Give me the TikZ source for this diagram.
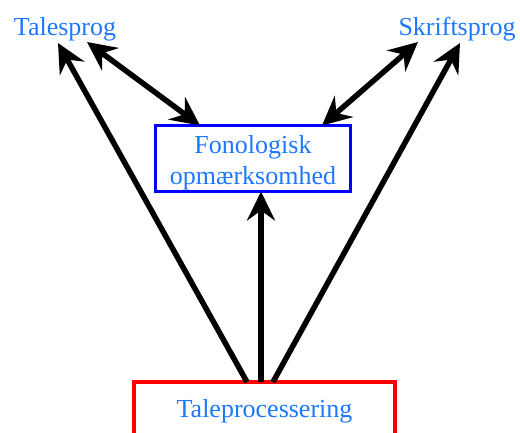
\documentclass[tikz,border=0pt]{standalone}
\usepackage{fontspec}
\setmainfont{Liberation Serif}
\newfontfamily\lbfont{Liberation Serif}
\usetikzlibrary{arrows.meta}
\definecolor{txtblue}{RGB}{30,120,255}
\begin{document}
\begin{tikzpicture}[x=1pt,y=-1pt,
  lbl/.style={text=txtblue, font=\lbfont\fontsize{26}{31}\selectfont, inner sep=0pt, outer sep=0pt},
  conn/.style={line width=5.5pt, -{Stealth[length=29pt,width=28pt,inset=10pt]}},
  dconn/.style={line width=5.5pt, {Stealth[length=29pt,width=28pt,inset=10pt]}-{Stealth[length=29pt,width=28pt,inset=10pt]}}]
\useasboundingbox (0,0) rectangle (520,432);
\clip (0,0) rectangle (520,432);
\node[lbl, anchor=base] (tale) at (65,35) {Talesprog};
\node[lbl, anchor=base] (skrift) at (457,35) {Skriftsprog};
\node[lbl, draw=blue, line width=3pt, minimum width=195pt, minimum height=66pt, align=center, text height=52pt, text depth=1pt] (fon) at (253,158.5) {Fonologisk\\opmærksomhed};
\node[lbl, draw=red, line width=4pt, minimum width=261pt, minimum height=58pt] (proc) at (264.5,411) {Taleprocessering};
\draw[conn] ([xshift=-17.5pt]proc.north) -- ([xshift=-7pt,yshift=-8pt]tale.base);
\draw[conn] ([xshift=-3.5pt]proc.north) -- ([xshift=8pt]fon.south);
\draw[conn] ([xshift=8.5pt]proc.north) -- ([xshift=3pt,yshift=-8pt]skrift.base);
\draw[dconn] ([xshift=22pt,yshift=-7pt]tale.base) -- ([xshift=-53pt]fon.north);
\draw[dconn] ([xshift=-39pt,yshift=-7pt]skrift.base) -- ([xshift=69pt]fon.north);
\end{tikzpicture}
\end{document}
